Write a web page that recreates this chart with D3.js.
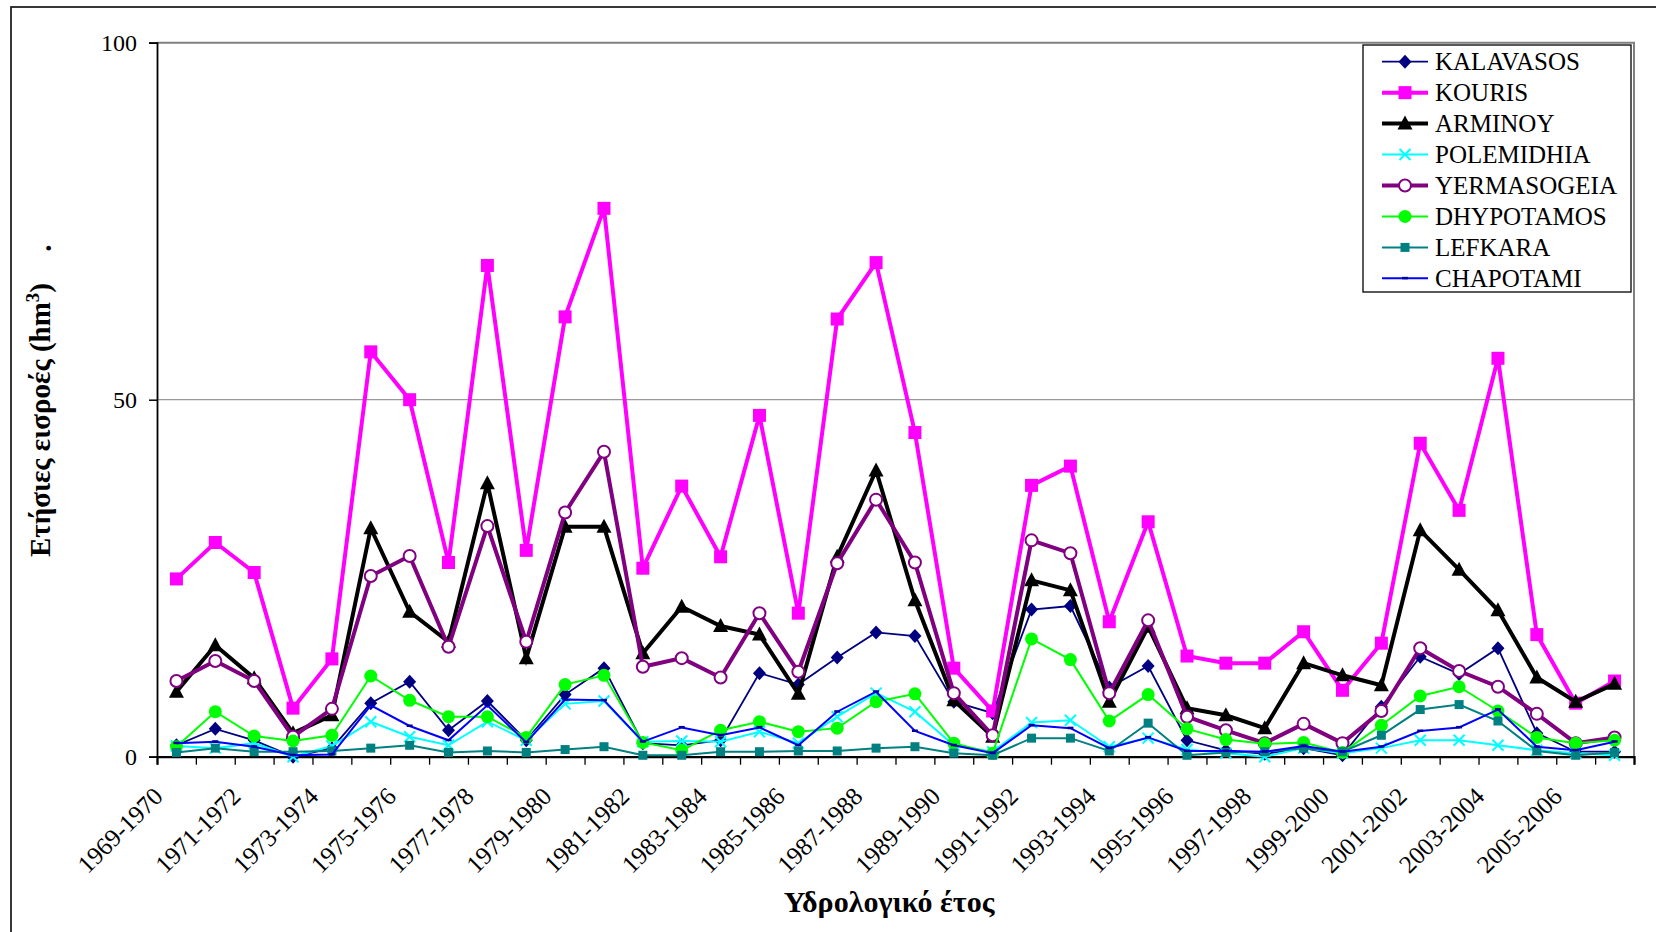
<!DOCTYPE html>
<html><head><meta charset="utf-8">
<script src="https://cdn.jsdelivr.net/npm/d3@7"></script>
<style>body{margin:0;background:#fff} svg{display:block}</style>
</head><body>
<svg id="c" width="1656" height="932"></svg>
<script>
const categories = ["1969-1970","1970-1971","1971-1972","1972-1973","1973-1974","1974-1975","1975-1976","1976-1977","1977-1978","1978-1979",
"1979-1980","1980-1981","1981-1982","1982-1983","1983-1984","1984-1985","1985-1986","1986-1987","1987-1988","1988-1989",
"1989-1990","1990-1991","1991-1992","1992-1993","1993-1994","1994-1995","1995-1996","1996-1997","1997-1998","1998-1999",
"1999-2000","2000-2001","2001-2002","2002-2003","2003-2004","2004-2005","2005-2006","2006-2007"];
const yTicks = [0, 50, 100];

const KALAVASOS   = [1.6,3.9,2.3,0,1.2,7.5,10.5,3.7,7.8,2.3, 8.7,12.4,1.9,1.6,2.3,11.7,10.1,13.9,17.4,16.9, 7.7,6.1,20.6,21.1,9.7,12.7,2.3,0.9,0.4,1.2, 0.2,7.0,14.0,11.6,15.2,3.3,0.7,0.7];
const KOURIS      = [24.9,30.0,25.8,6.8,13.7,56.7,50.0,27.2,68.8,28.9, 61.6,76.8,26.4,37.9,28.0,47.8,20.1,61.3,69.2,45.4, 12.4,6.4,38.0,40.7,18.9,32.9,14.1,13.1,13.1,17.5, 9.3,15.9,43.9,34.5,55.8,17.1,7.5,10.6];
const ARMINOY     = [9.1,15.6,11.0,3.3,5.8,32.0,20.3,16.1,38.3,13.8, 32.2,32.2,14.5,21.0,18.3,17.1,8.8,28.0,40.1,21.9, 7.9,2.8,24.7,23.3,7.7,18.2,6.8,5.8,4.0,13.1, 11.4,10.0,31.7,26.2,20.5,11.1,7.7,10.2];
const POLEMIDHIA  = [1.5,1.2,1.9,0,1.5,4.9,2.8,1.6,4.9,2.3, 7.4,7.8,2.1,2.2,2.1,3.5,1.9,5.6,8.9,6.3, 1.6,0.7,4.8,5.1,1.4,2.6,1.0,0.5,0,1.2, 0.5,1.2,2.3,2.3,1.6,0.9,0.5,0.2];
const YERMASOGEIA = [10.6,13.4,10.6,2.8,6.7,25.3,28.1,15.4,32.3,16.1, 34.2,42.7,12.6,13.8,11.1,20.1,11.9,27.1,36.0,27.2, 8.9,3.0,30.3,28.5,8.9,19.1,5.6,3.7,1.9,4.6, 1.9,6.4,15.2,12.0,9.8,6.0,1.9,2.7];
const DHYPOTAMOS  = [1.4,6.3,2.9,2.2,3.0,11.3,7.9,5.6,5.6,2.7, 10.1,11.4,2.0,0.9,3.7,4.9,3.5,4.0,7.7,8.8, 1.9,0.5,16.5,13.6,5.0,8.7,3.9,2.4,1.8,2.0, 0.6,4.4,8.5,9.8,6.4,2.7,1.9,2.3];
const LEFKARA     = [0.6,1.2,0.7,0.7,0.8,1.2,1.6,0.6,0.8,0.6, 1.0,1.4,0.2,0.2,0.7,0.7,0.8,0.8,1.2,1.4, 0.5,0.2,2.6,2.6,0.8,4.7,0.2,0.6,0.7,1.2, 0.7,3.0,6.6,7.3,5.0,0.8,0.2,0.6];
const CHAPOTAMI   = [1.9,2.1,1.4,0.2,0.3,7.2,4.3,2.3,7.2,2.0, 8.0,7.9,2.1,4.1,3.0,4.1,1.6,6.3,9.1,3.6, 1.6,0.5,4.4,4.0,1.2,2.7,0.8,0.8,0.7,1.5, 0.7,1.4,3.6,4.1,6.6,1.4,0.9,2.1];

const seriesNames  = ["KALAVASOS","KOURIS","ARMINOY","POLEMIDHIA","YERMASOGEIA","DHYPOTAMOS","LEFKARA","CHAPOTAMI"];
const seriesValues = [KALAVASOS, KOURIS, ARMINOY, POLEMIDHIA, YERMASOGEIA, DHYPOTAMOS, LEFKARA, CHAPOTAMI];
const seriesColors = ["#000080","#FF00FF","#000000","#00FFFF","#800080","#00FF00","#008080","#0000FF"];
const seriesWidths = [1.8, 4, 4, 2, 4, 2, 2, 2];
const seriesMarkers = ["diamond","square","triangle","x","ocircle","circle","smallsquare","dash"];

const xTitle = "Υδρολογικό έτος";
const yTitle = "Ετήσιες εισροές (hm";

const svg = d3.select("#c");
const serif = "'Liberation Serif','Times New Roman',serif";
const L = 157, R = 1634, T = 42.7, B = 756.7;

// outer frame
svg.append("rect").attr("x", 11).attr("y", 7).attr("width", 1700).attr("height", 1000)
  .attr("fill", "none").attr("stroke", "#222").attr("stroke-width", 1.8);

const xi = d3.scaleLinear().domain([0, categories.length]).range([L, R]);
const y = d3.scaleLinear().domain([0, 100]).range([B, T]);
const cx = i => xi(i + 0.5);

// gridline at 50
svg.append("line").attr("x1", L).attr("x2", R).attr("y1", y(50)).attr("y2", y(50))
  .attr("stroke", "#999").attr("stroke-width", 1.2);
// plot border top & right (gray)
svg.append("path").attr("d", `M${L},${y(100)}H${R}V${B}`).attr("fill", "none")
  .attr("stroke", "#808080").attr("stroke-width", 2);

// y axis
const yAxis = svg.append("g").attr("transform", `translate(${L},0)`)
  .call(d3.axisLeft(y).tickValues(yTicks).tickSize(8).tickPadding(12).tickFormat(d3.format("d")));
yAxis.select(".domain").attr("stroke", "#000").attr("stroke-width", 1.8);
yAxis.selectAll(".tick line").attr("stroke", "#000").attr("stroke-width", 1.5);
yAxis.selectAll(".tick text").attr("font-family", serif).attr("font-size", 24).attr("fill", "#000");

// x axis (ticks at category boundaries)
const xAxis = svg.append("g").attr("transform", `translate(0,${B})`)
  .call(d3.axisBottom(xi).tickValues(d3.range(categories.length + 1)).tickSize(8).tickFormat(""));
xAxis.select(".domain").attr("stroke", "#000").attr("stroke-width", 2.2);
xAxis.selectAll(".tick line").attr("stroke", "#000").attr("stroke-width", 1.3);

// category labels (every other)
svg.append("g").selectAll("text").data(categories.map((c, i) => ({c, i})).filter(d => d.i % 2 === 0))
  .join("text")
  .attr("transform", d => `translate(${cx(d.i) - 12},798) rotate(-45)`)
  .attr("text-anchor", "end").attr("font-family", serif).attr("font-size", 25)
  .text(d => d.c);

// marker drawer
function drawMarker(g, type, color, px, py) {
  switch (type) {
    case "diamond":
      g.append("path").attr("d", `M${px},${py-7}L${px+6.5},${py}L${px},${py+7}L${px-6.5},${py}Z`).attr("fill", color); break;
    case "square":
      g.append("rect").attr("x", px-6.5).attr("y", py-6.5).attr("width", 13).attr("height", 13).attr("fill", color); break;
    case "triangle":
      g.append("path").attr("d", `M${px},${py-8}L${px+7.5},${py+6}L${px-7.5},${py+6}Z`).attr("fill", color); break;
    case "x":
      g.append("path").attr("d", `M${px-5.5},${py-5.5}L${px+5.5},${py+5.5}M${px-5.5},${py+5.5}L${px+5.5},${py-5.5}`)
        .attr("stroke", color).attr("stroke-width", 2).attr("fill", "none"); break;
    case "ocircle":
      g.append("circle").attr("cx", px).attr("cy", py).attr("r", 6).attr("fill", "#fff").attr("stroke", color).attr("stroke-width", 2); break;
    case "circle":
      g.append("circle").attr("cx", px).attr("cy", py).attr("r", 6.5).attr("fill", color); break;
    case "smallsquare":
      g.append("rect").attr("x", px-4.5).attr("y", py-4.5).attr("width", 9).attr("height", 9).attr("fill", color); break;
    case "dash":
      g.append("rect").attr("x", px-3).attr("y", py-1.5).attr("width", 6).attr("height", 2.5).attr("fill", "#0000A0"); break;
  }
}

// series
const line = d3.line().x((d, i) => cx(i)).y(d => y(d));
seriesValues.forEach((vals, s) => {
  const g = svg.append("g");
  g.append("path").attr("d", line(vals)).attr("fill", "none")
    .attr("stroke", seriesColors[s]).attr("stroke-width", seriesWidths[s]).attr("stroke-linejoin", "miter");
  vals.forEach((v, i) => drawMarker(g, seriesMarkers[s], seriesColors[s], cx(i), y(v)));
});

// legend
const lg = svg.append("g");
lg.append("rect").attr("x", 1363).attr("y", 45).attr("width", 268).attr("height", 247)
  .attr("fill", "#fff").attr("stroke", "#000").attr("stroke-width", 1.3);
seriesNames.forEach((n, s) => {
  const cy = 61.7 + 30.95 * s;
  lg.append("line").attr("x1", 1382).attr("x2", 1428).attr("y1", cy).attr("y2", cy)
    .attr("stroke", seriesColors[s]).attr("stroke-width", seriesWidths[s]);
  drawMarker(lg, seriesMarkers[s], seriesColors[s], 1405, cy);
  lg.append("text").attr("x", 1435).attr("y", cy + 8.2).attr("font-family", serif).attr("font-size", 25).text(n);
});

// axis titles
svg.append("text").attr("x", 889).attr("y", 912).attr("text-anchor", "middle")
  .attr("font-family", serif).attr("font-weight", "bold").attr("font-size", 30).text(xTitle);

const yt = svg.append("text").attr("transform", "translate(50,420) rotate(-90)").attr("text-anchor", "middle")
  .attr("font-family", serif).attr("font-weight", "bold").attr("font-size", 29);
yt.append("tspan").text(yTitle);
yt.append("tspan").attr("dy", -11).attr("font-size", 19).text("3");
yt.append("tspan").attr("dy", 11).text(")");
svg.append("text").attr("transform", "translate(51,248) rotate(-90)").attr("text-anchor", "middle")
  .attr("font-family", serif).attr("font-weight", "bold").attr("font-size", 29).text(".");
</script>
</body></html>
